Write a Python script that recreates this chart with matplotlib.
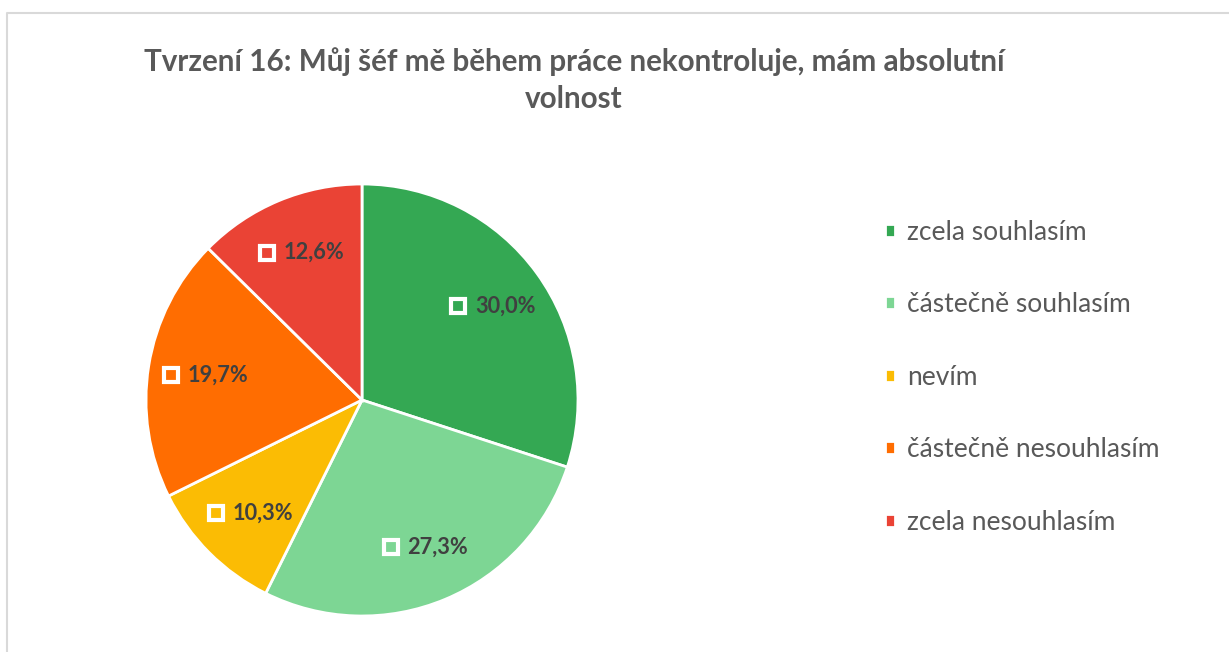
import numpy as np
import matplotlib.pyplot as plt
from matplotlib.lines import Line2D
from matplotlib.transforms import offset_copy

plt.rcParams["font.family"] = ["Lato", "DejaVu Sans"]

categories = ["zcela souhlasím", "částečně souhlasím", "nevím",
              "částečně nesouhlasím", "zcela nesouhlasím"]
values = [30.0, 27.3, 10.3, 19.7, 12.6]
labels = ["30,0%", "27,3%", "10,3%", "19,7%", "12,6%"]
colors = ["#34A853", "#7DD694", "#FBBC04", "#FF6D01", "#EA4335"]

W, H = 1229, 652
fig = plt.figure(figsize=(W / 100, H / 100), dpi=100)

# pie centre ~ (362, 400) px, radius ~216 px
cx, cy, r = 362, 400, 216
ax = fig.add_axes([(cx - r) / W, (H - cy - r) / H, 2 * r / W, 2 * r / H])
wedges, _ = ax.pie(values, colors=colors, startangle=90, counterclock=False,
                   wedgeprops=dict(edgecolor="white", linewidth=2))
ax.set_xlim(-1, 1)
ax.set_ylim(-1, 1)
ax.set_aspect("equal")

for w, lab in zip(wedges, labels):
    mid = np.deg2rad((w.theta1 + w.theta2) / 2)
    x, y = 0.74 * np.cos(mid), 0.74 * np.sin(mid)
    ax.text(x, y, lab, transform=offset_copy(ax.transData, fig=fig, x=14, y=0, units="dots"),
            ha="center", va="center", fontsize=15.7, fontweight="bold", color="#404040")
    ax.plot([x], [y], marker="s", ms=9.5, mfc="none", mec="white", mew=3,
            transform=offset_copy(ax.transData, fig=fig, x=-33, y=0, units="dots"))

fig.text(574 / W, 1 - 80 / H, "Tvrzení 16: Můj šéf mě během práce nekontroluje, mám absolutní\nvolnost",
         ha="center", va="center", fontsize=21.3, fontweight="bold", color="#595959",
         linespacing=1.42)

fig.legend(wedges, categories, loc="upper left", bbox_to_anchor=(861 / W, 1 - 196 / H),
           frameon=False, fontsize=19, labelcolor="#595959", handlelength=0.4,
           handleheight=0.4, handletextpad=0.45, labelspacing=1.8)

# chart frame (top and left edges visible)
fig.add_artist(Line2D([7 / W, 7 / W, 1.0], [0.0, 1 - 13 / H, 1 - 13 / H],
                      transform=fig.transFigure, color="#D9D9D9", lw=1.5))

fig.savefig("out.png", dpi=100)
